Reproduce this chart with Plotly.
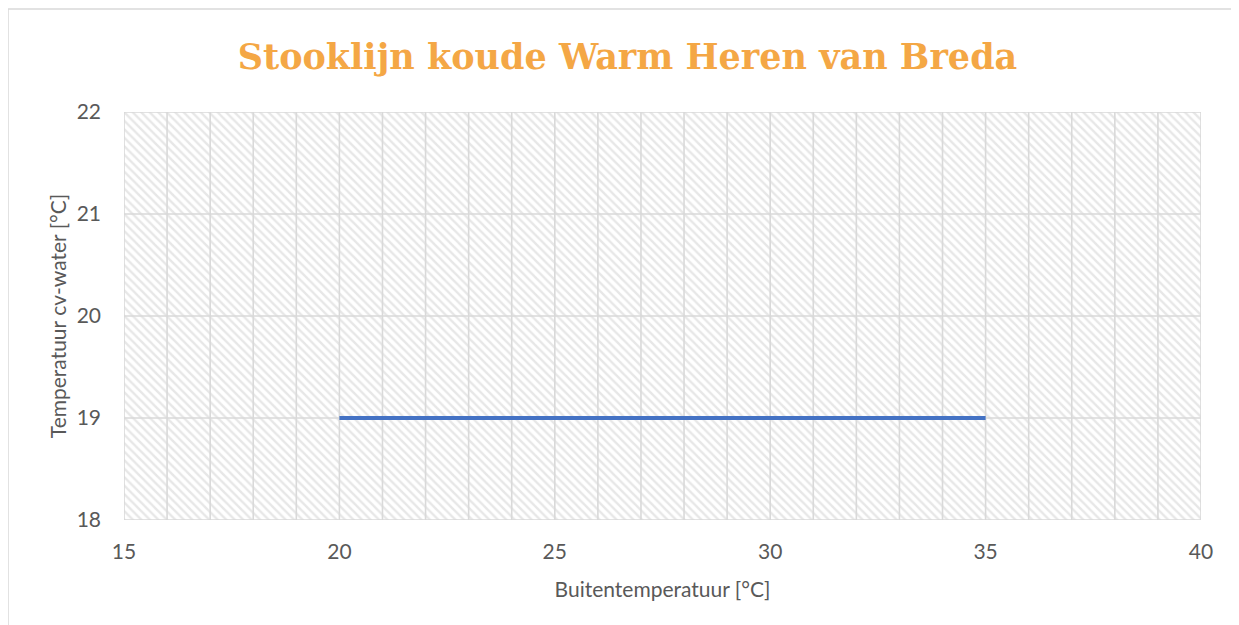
import plotly.graph_objects as go

# Data
buiten_temp = [20, 35]
cv_water_temp = [19, 19]
x_range = [15, 40]
y_range = [18, 22]
x_grid = list(range(15, 41, 1))
y_grid = list(range(18, 23, 1))
title_text = "Stooklijn koude Warm Heren van Breda"
x_title = "Buitentemperatuur [°C]"
y_title = "Temperatuur cv-water [°C]"

W, H = 1239, 625
ml, mr, mt, mb = 116, 46, 104, 113

fig = go.Figure()

# Hatched plot-area background
fig.add_trace(go.Scatter(
    x=[x_range[0], x_range[1], x_range[1], x_range[0], x_range[0]],
    y=[y_range[0], y_range[0], y_range[1], y_range[1], y_range[0]],
    mode="lines", line=dict(width=0), fill="toself",
    fillcolor="rgba(0,0,0,0)",
    fillpattern=dict(shape="\\", fgcolor="#cfcfcf", bgcolor="white",
                     size=6, solidity=0.4),
    hoverinfo="skip", showlegend=False,
))

# Gridlines drawn above the hatch
gx, gy = [], []
for v in x_grid:
    gx += [v, v, None]
    gy += [y_range[0], y_range[1], None]
for v in y_grid:
    gx += [x_range[0], x_range[1], None]
    gy += [v, v, None]
fig.add_trace(go.Scatter(x=gx, y=gy, mode="lines",
                         line=dict(color="#d9d9d9", width=1.6),
                         hoverinfo="skip", showlegend=False))

fig.add_trace(go.Scatter(
    x=buiten_temp, y=cv_water_temp, mode="lines",
    line=dict(color="#4472C4", width=4),
    showlegend=False,
))

pw = W - ml - mr
ph = H - mt - mb
fig.add_shape(type="rect", xref="paper", yref="paper",
              x0=(0 - ml) / pw, x1=(W + 20 - ml) / pw,
              y0=(H - mb - (H + 20)) / ph, y1=(H - mb - 1) / ph,
              line=dict(color="#d9d9d9", width=1.5), layer="below")

tick_font = dict(family="Lato, 'Open Sans', sans-serif", size=21, color="#595959")

fig.update_layout(
    width=W, height=H,
    margin=dict(l=ml, r=mr, t=mt, b=mb),
    paper_bgcolor="white", plot_bgcolor="white",
    title=dict(text=title_text, x=0.5, xanchor="center", y=1 - 49 / H, yanchor="middle",
               font=dict(family="'DejaVu Serif', serif", size=35, color="#F4A745",
                         weight="bold")),
    xaxis=dict(range=x_range, dtick=5, tick0=15, showgrid=False,
               zeroline=False, showline=False, ticks="",
               tickfont=tick_font, ticklabelstandoff=17,
               title=dict(text=x_title, font=tick_font, standoff=20),
               fixedrange=True),
    yaxis=dict(range=y_range, dtick=1, showgrid=False,
               zeroline=False, showline=False, ticks="",
               tickfont=tick_font, ticklabelstandoff=22,
               title=dict(text=y_title, font=tick_font, standoff=4),
               fixedrange=True),
)

fig.write_html("out.html")
